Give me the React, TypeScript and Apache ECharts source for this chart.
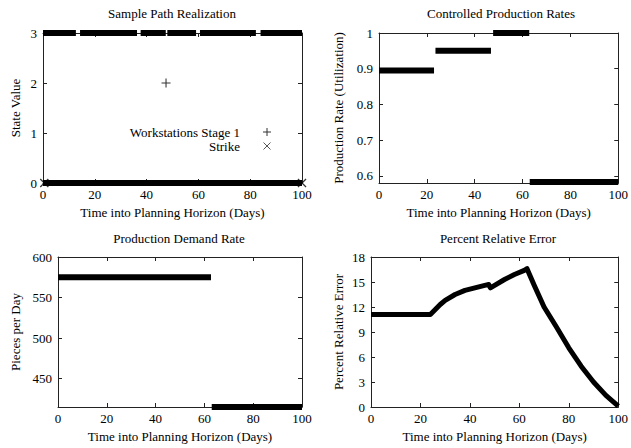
import React, { useEffect, useRef } from "react";
import * as echarts from "echarts";

// ---------- data ----------
const X_MIN = 0;
const X_MAX = 100;

// Sample Path Realization
const WS_LEVEL = 3;
const WS_SEGMENTS: [number, number][] = [
  [0, 12.7],
  [14.3, 36.3],
  [37.7, 47.4],
  [48.0, 59.1],
  [60.6, 82.2],
  [84.0, 100],
];
const WS_POINTS: [number, number][] = [[47.5, 2]];
const STRIKE_LEVEL = 0;
const STRIKE_SEGMENT: [number, number] = [0, 100];
const STRIKE_ENDS: [number, number][] = [
  [0.5, 0],
  [100, 0],
];

// Controlled Production Rates: [start, end, value]
const RATE_STEPS: [number, number, number][] = [
  [0, 23.0, 0.895],
  [23.6, 46.8, 0.95],
  [47.7, 62.8, 1.0],
  [63.0, 100, 0.583],
];

// Production Demand Rate: [start, end, value]
const DEMAND_STEPS: [number, number, number][] = [
  [0, 62.7, 575],
  [63.0, 100, 415],
];

// Percent Relative Error
const ERR_X = [0, 24, 26, 28, 30, 34, 38, 42, 46, 47.6, 48.3, 50, 54, 58, 62, 63.1, 66, 70, 75, 80, 85, 90, 95, 100];
const ERR_Y = [11.1, 11.1, 11.7, 12.3, 12.8, 13.5, 14.0, 14.3, 14.6, 14.7, 14.3, 14.6, 15.3, 15.9, 16.4, 16.6, 14.6, 12.0, 9.6, 7.1, 4.9, 3.0, 1.4, 0.1];

const TITLES = [
  "Sample Path Realization",
  "Controlled Production Rates",
  "Production Demand Rate",
  "Percent Relative Error",
];
const Y_NAMES = [
  "State Value",
  "Production Rate (Utilization)",
  "Pieces per Day",
  "Percent Relative Error",
];
const X_NAME = "Time into Planning Horizon (Days)";

const FONT = "'Liberation Serif', 'Times New Roman', Times, 'DejaVu Serif', serif";
const FS = 13;
const AXIS_COLOR = "#222";

export default function App() {
  const ref = useRef<HTMLDivElement>(null);

  useEffect(() => {
    if (!ref.current) return;
    const chart = echarts.init(ref.current, undefined, { renderer: "svg" });

    const grids = [
      { left: 43, right: 329, top: 33, bottom: 265 },
      { left: 379, right: 8, top: 33, bottom: 265 },
      { left: 58, right: 329, top: 257, bottom: 41 },
      { left: 371, right: 8, top: 257, bottom: 41 },
    ];
    const yCfg: any[] = [
      { min: 0, max: 3, interval: 1, nameGap: 21 },
      { min: 0.58, max: 1, custom: [0.6, 0.7, 0.8, 0.9, 1], nameGap: 34 },
      { min: 415, max: 600, custom: [450, 500, 550, 600], nameGap: 36 },
      { min: 0, max: 18, interval: 3, nameGap: 26 },
    ];
    const titleX = [172, 501, 179, 498];
    const titleY = [7, 7, 232, 232];

    const textStyle = { fontFamily: FONT, fontSize: FS, color: "#000" };
    const axisLine = { show: true, onZero: false, lineStyle: { color: AXIS_COLOR, width: 1 } };
    const axisTick = { show: true, inside: true, length: 4, lineStyle: { color: AXIS_COLOR } };

    const xAxis: any[] = [];
    const yAxis: any[] = [];
    grids.forEach((_, g) => {
      xAxis.push({
        type: "value",
        gridIndex: g,
        min: X_MIN,
        max: X_MAX,
        interval: 20,
        position: "bottom",
        name: X_NAME,
        nameLocation: "middle",
        nameGap: 23,
        nameTextStyle: textStyle,
        axisLine,
        axisTick,
        axisLabel: { ...textStyle, margin: 5 },
        splitLine: { show: false },
      });
      xAxis.push({
        type: "value",
        gridIndex: g,
        min: X_MIN,
        max: X_MAX,
        interval: 20,
        position: "top",
        axisLine,
        axisTick,
        axisLabel: { show: false },
        splitLine: { show: false },
      });
      const c = yCfg[g];
      const base: any = {
        type: "value",
        gridIndex: g,
        min: c.min,
        max: c.max,
        splitLine: { show: false },
        axisLine,
      };
      if (c.interval) base.interval = c.interval;
      yAxis.push({
        ...base,
        position: "left",
        name: Y_NAMES[g],
        nameLocation: "middle",
        nameGap: c.nameGap,
        nameTextStyle: textStyle,
        axisTick: c.custom ? { ...axisTick, customValues: c.custom } : axisTick,
        axisLabel: c.custom
          ? { ...textStyle, margin: 6, customValues: c.custom }
          : { ...textStyle, margin: 6 },
      });
      yAxis.push({
        ...base,
        position: "right",
        axisTick: c.custom ? { ...axisTick, customValues: c.custom } : axisTick,
        axisLabel: { show: false },
      });
    });

    const thick = (g: number, data: any[], w = 6) => ({
      type: "line",
      xAxisIndex: 2 * g,
      yAxisIndex: 2 * g,
      data,
      symbol: "none",
      clip: false,
      lineStyle: { color: "#000", width: w, cap: "butt" },
      z: 3,
    });

    const series: any[] = [];
    // plot 1
    WS_SEGMENTS.forEach(([a, b]) => series.push(thick(0, [[a, WS_LEVEL], [b, WS_LEVEL]])));
    series.push(thick(0, [[STRIKE_SEGMENT[0], STRIKE_LEVEL], [STRIKE_SEGMENT[1], STRIKE_LEVEL]]));
    series.push({
      type: "scatter",
      xAxisIndex: 0,
      yAxisIndex: 0,
      data: WS_POINTS,
      symbol: "path://M4.4,0h1.2v10h-1.2z M0,4.4h10v1.2h-10z",
      symbolSize: 9,
      itemStyle: { color: "#000" },
      clip: false,
    });
    series.push({
      type: "scatter",
      xAxisIndex: 0,
      yAxisIndex: 0,
      data: STRIKE_ENDS,
      symbol: "path://M0,1l1,-1l9,9l-1,1z M9,0l1,1l-9,9l-1,-1z",
      symbolSize: 9,
      itemStyle: { color: "#000" },
      clip: false,
    });
    // plot 2
    RATE_STEPS.forEach(([a, b, v]) => series.push(thick(1, [[a, v], [b, v]])));
    // plot 3
    DEMAND_STEPS.forEach(([a, b, v]) => series.push(thick(2, [[a, v], [b, v]])));
    // plot 4
    series.push({
      ...thick(3, ERR_X.map((x, i) => [x, ERR_Y[i]]), 5),
      lineStyle: { color: "#000", width: 5, cap: "butt", join: "round" },
    });

    // legend of plot 1 (gnuplot style: text then sample)
    const lx = 267;
    const graphic: any[] = [
      {
        type: "text",
        x: 240,
        y: 132,
        style: { text: "Workstations Stage 1", fontFamily: FONT, fontSize: FS, fill: "#000", align: "right", verticalAlign: "middle" },
      },
      {
        type: "text",
        x: 240,
        y: 146,
        style: { text: "Strike", fontFamily: FONT, fontSize: FS, fill: "#000", align: "right", verticalAlign: "middle" },
      },
      { type: "line", shape: { x1: lx - 4, y1: 132, x2: lx + 4, y2: 132 }, style: { stroke: "#333", lineWidth: 1 } },
      { type: "line", shape: { x1: lx, y1: 128, x2: lx, y2: 136 }, style: { stroke: "#333", lineWidth: 1 } },
      { type: "line", shape: { x1: lx - 3.5, y1: 142.5, x2: lx + 3.5, y2: 149.5 }, style: { stroke: "#555", lineWidth: 1 } },
      { type: "line", shape: { x1: lx + 3.5, y1: 142.5, x2: lx - 3.5, y2: 149.5 }, style: { stroke: "#555", lineWidth: 1 } },
    ];

    chart.setOption({
      animation: false,
      backgroundColor: "#fff",
      title: TITLES.map((t, i) => ({
        text: t,
        left: titleX[i],
        top: titleY[i],
        textAlign: "center",
        padding: 0,
        textStyle: { ...textStyle, fontWeight: "normal" },
      })),
      grid: grids.map((g) => ({ ...g, containLabel: false, show: false })),
      xAxis,
      yAxis,
      series,
      graphic,
    });

    return () => chart.dispose();
  }, []);

  return (
    <div
      ref={ref}
      style={{ position: "fixed", left: 0, top: 0, width: 631, height: 448, background: "#fff" }}
    />
  );
}
